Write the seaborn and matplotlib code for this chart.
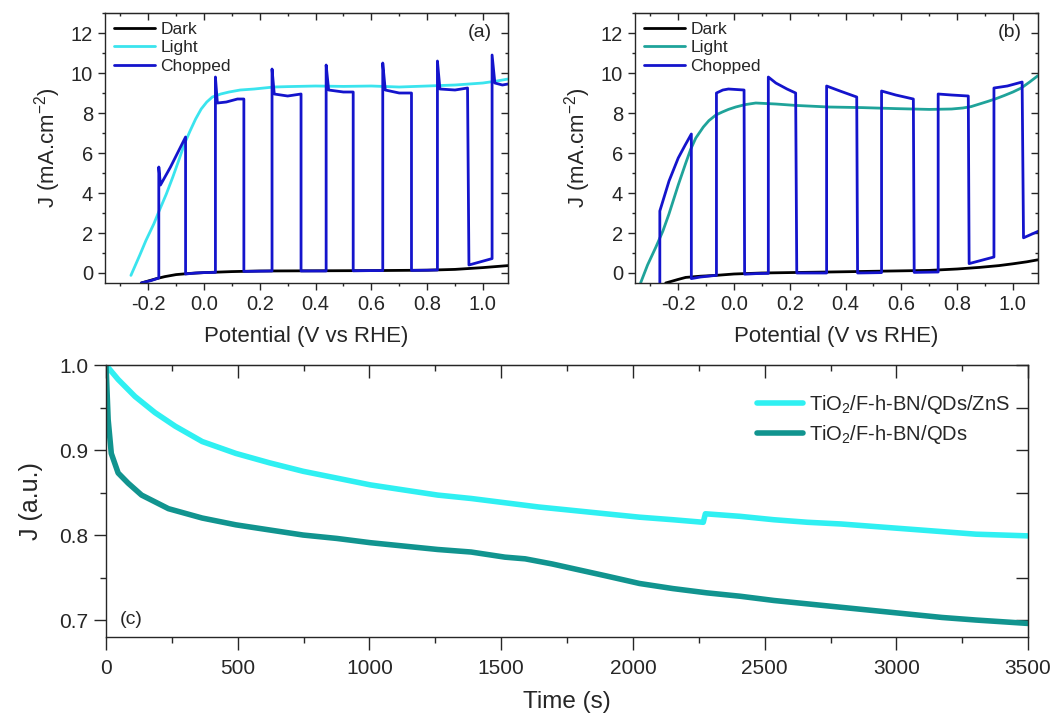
import pandas as pd
import seaborn as sns
from matplotlib import pyplot as plt
from matplotlib.ticker import MultipleLocator

sns.set_style('ticks')
plt.rcParams['font.family'] = ['Liberation Sans', 'DejaVu Sans']
plt.rcParams['mathtext.fontset'] = 'custom'
plt.rcParams['mathtext.rm'] = 'Liberation Sans'

# ---- panel (a) : LSV, dark / light / chopped
dark_a_v = [-0.225, -0.2, -0.17, -0.14, -0.1, -0.05, 0.0, 0.1, 0.2, 0.4, 0.6, 0.8, 0.9, 1.0, 1.09]
dark_a_j = [-0.5, -0.4, -0.28, -0.18, -0.08, -0.02, 0.02, 0.07, 0.1, 0.11, 0.12, 0.14, 0.18, 0.27, 0.37]

light_a_v = [-0.262, -0.23, -0.208, -0.18, -0.16, -0.135, -0.112, -0.09, -0.07, -0.05, -0.03, -0.01,
             0.01, 0.03, 0.06, 0.09, 0.13, 0.18, 0.25, 0.3, 0.4, 0.5, 0.6, 0.7, 0.8, 0.9, 0.95, 1.0, 1.05, 1.09]
light_a_j = [-0.12, 0.9, 1.63, 2.45, 3.13, 3.95, 4.79, 5.65, 6.46, 7.1, 7.7, 8.2,
             8.55, 8.8, 8.95, 9.05, 9.15, 9.2, 9.3, 9.32, 9.35, 9.33, 9.35, 9.3, 9.35, 9.4, 9.45, 9.5, 9.6, 9.7]

chop_a_v = [-0.225, -0.19, -0.162, -0.162, -0.156, -0.12, -0.066, -0.066, -0.03, 0.0, 0.041, 0.041,
            0.048, 0.08, 0.12, 0.143, 0.143, 0.2, 0.244, 0.244, 0.252, 0.3, 0.348, 0.348, 0.4, 0.438,
            0.438, 0.447, 0.5, 0.535, 0.535, 0.6, 0.641, 0.641, 0.65, 0.7, 0.744, 0.744, 0.8, 0.837,
            0.837, 0.846, 0.9, 0.945, 0.95, 1.033, 1.033, 1.043, 1.07, 1.09]
chop_a_j = [-0.5, -0.38, -0.25, 5.3, 4.4, 5.3, 6.8, -0.05, 0.0, 0.02, 0.03, 9.8,
            8.5, 8.55, 8.7, 8.7, 0.08, 0.09, 0.1, 10.2, 8.95, 8.85, 8.95, 0.1, 0.1, 0.1,
            10.4, 9.15, 9.05, 9.05, 0.11, 0.12, 0.12, 10.5, 9.15, 9.0, 9.0, 0.13, 0.14, 0.15,
            10.6, 9.2, 9.15, 9.25, 0.4, 0.72, 10.9, 9.5, 9.4, 9.45]

# ---- panel (b)
dark_b_v = [-0.245, -0.2, -0.173, -0.12, -0.066, 0.0, 0.1, 0.34, 0.7, 0.8, 0.88, 0.95, 1.0, 1.05, 1.09]
dark_b_j = [-0.5, -0.32, -0.22, -0.16, -0.12, -0.05, 0.0, 0.05, 0.13, 0.2, 0.28, 0.37, 0.46, 0.56, 0.66]

light_b_v = [-0.335, -0.31, -0.28, -0.255, -0.233, -0.2, -0.173, -0.155, -0.137, -0.11, -0.09, -0.065,
             -0.042, -0.02, 0.006, 0.04, 0.078, 0.15, 0.22, 0.34, 0.46, 0.58, 0.7, 0.78, 0.82, 0.85, 0.88,
             0.91, 0.94, 0.97, 1.0, 1.03, 1.06, 1.09]
light_b_j = [-0.5, 0.4, 1.3, 2.1, 2.96, 4.4, 5.5, 6.2, 6.75, 7.3, 7.62, 7.9,
             8.05, 8.18, 8.3, 8.42, 8.5, 8.45, 8.38, 8.3, 8.27, 8.22, 8.18, 8.2, 8.25, 8.32, 8.45,
             8.58, 8.72, 8.88, 9.05, 9.25, 9.55, 9.87]

chop_b_v = [-0.266, -0.266, -0.233, -0.2, -0.175, -0.153, -0.153, -0.12, -0.066, -0.063, -0.063,
            -0.04, -0.02, 0.036, 0.038, 0.08, 0.123, 0.123, 0.15, 0.19, 0.221, 0.225, 0.28, 0.332,
            0.332, 0.38, 0.44, 0.443, 0.49, 0.529, 0.529, 0.58, 0.643, 0.646, 0.69, 0.732, 0.732,
            0.78, 0.84, 0.843, 0.932, 0.932, 0.98, 1.033, 1.038, 1.093]
chop_b_j = [-0.5, 3.1, 4.6, 5.75, 6.4, 6.95, -0.28, -0.2, -0.12, -0.12, 9.0,
            9.15, 9.2, 9.15, -0.06, -0.03, -0.02, 9.8, 9.5, 9.2, 9.0, 0.0, 0.0, 0.0,
            9.35, 9.1, 8.8, 0.0, 0.01, 0.02, 9.1, 8.9, 8.7, 0.03, 0.04, 0.05, 8.95,
            8.9, 8.85, 0.47, 0.8, 9.25, 9.35, 9.55, 1.76, 2.1]

# ---- panel (c) : stability, normalised J
time_zns = [0, 46, 110, 186, 263, 365, 493, 620, 748, 876, 1003, 1131, 1259, 1386, 1514, 1642, 1770,
            1897, 2025, 2152, 2267, 2275, 2407, 2535, 2663, 2790, 2918, 3046, 3174, 3302, 3500]
j_zns = [1.0, 0.983, 0.963, 0.944, 0.928, 0.910, 0.896, 0.885, 0.875, 0.867, 0.859, 0.853, 0.847,
         0.843, 0.838, 0.833, 0.829, 0.825, 0.821, 0.818, 0.815, 0.825, 0.822, 0.818, 0.815, 0.813,
         0.810, 0.807, 0.804, 0.801, 0.799]

time_qds = [0, 8, 20, 46, 84, 135, 237, 365, 493, 620, 748, 876, 1003, 1131, 1259, 1386, 1514, 1591,
            1693, 1795, 1897, 2025, 2152, 2280, 2407, 2535, 2663, 2790, 2918, 3046, 3174, 3302, 3500]
j_qds = [1.0, 0.936, 0.896, 0.873, 0.861, 0.847, 0.831, 0.820, 0.812, 0.806, 0.800, 0.796, 0.791,
         0.787, 0.783, 0.780, 0.774, 0.772, 0.766, 0.759, 0.752, 0.743, 0.737, 0.732, 0.728, 0.723,
         0.719, 0.715, 0.711, 0.707, 0.703, 0.700, 0.696]

black = '#000000'
cyan = '#3ae4ee'
teal_b = '#1fa39a'
cyan_c = '#2ff0f2'
teal_c = '#11948f'
blue = '#1414cc'


def add_mirror_ticks(ax, xminor, yminor, major_len, minor_len):
    top = ax.secondary_xaxis('top')
    top.xaxis.set_minor_locator(MultipleLocator(xminor))
    top.tick_params(which='both', direction='in', labeltop=False, width=1)
    top.tick_params(which='major', length=major_len)
    top.tick_params(which='minor', length=minor_len)
    right = ax.secondary_yaxis('right')
    right.yaxis.set_minor_locator(MultipleLocator(yminor))
    right.tick_params(which='both', direction='in', labelright=False, width=1)
    right.tick_params(which='major', length=major_len)
    right.tick_params(which='minor', length=minor_len)


def lsv_panel(ax, dv, dj, lv, lj, cv, cj, light_col, tag):
    d = pd.DataFrame({'V': dv, 'J': dj})
    l = pd.DataFrame({'V': lv, 'J': lj})
    c = pd.DataFrame({'V': cv, 'J': cj})
    sns.lineplot(data=d, x='V', y='J', sort=False, estimator=None, color=black, lw=2, label='Dark', ax=ax)
    sns.lineplot(data=l, x='V', y='J', sort=False, estimator=None, color=light_col, lw=2, label='Light', ax=ax)
    sns.lineplot(data=c, x='V', y='J', sort=False, estimator=None, color=blue, lw=2, label='Chopped', ax=ax)
    ax.set_xlim(-0.355, 1.09)
    ax.set_ylim(-0.5, 13)
    ax.set_xticks([-0.2, 0.0, 0.2, 0.4, 0.6, 0.8, 1.0])
    ax.set_xticklabels(['-0.2', '0.0', '0.2', '0.4', '0.6', '0.8', '1.0'])
    ax.set_yticks([0, 2, 4, 6, 8, 10, 12])
    ax.xaxis.set_minor_locator(MultipleLocator(0.1))
    ax.yaxis.set_minor_locator(MultipleLocator(1))
    ax.tick_params(which='both', direction='out', labelsize=14.5, width=1)
    ax.tick_params(which='major', length=5)
    ax.tick_params(which='minor', length=2.5)
    add_mirror_ticks(ax, 0.1, 1, 5, 2.5)
    for s in ax.spines.values():
        s.set_linewidth(1)
    ax.set_xlabel('Potential (V vs RHE)', fontsize=16, labelpad=9)
    ax.set_ylabel('J (mA.cm$^{-2}$)', fontsize=16, labelpad=6)
    ax.text(0.93, 0.926, tag, transform=ax.transAxes, fontsize=14, ha='center', va='center')
    ax.legend(loc='upper left', frameon=False, fontsize=12.5, handlelength=2.4, handletextpad=0.3,
              labelspacing=0.2, borderaxespad=0.3, borderpad=0.2)


fig = plt.figure(figsize=(10.55, 7.19), dpi=100)
ax_a = fig.add_axes([0.0995, 0.6064, 0.382, 0.3755])
ax_b = fig.add_axes([0.6019, 0.6064, 0.382, 0.3755])
ax_c = fig.add_axes([0.1005, 0.1140, 0.874, 0.3783])

lsv_panel(ax_a, dark_a_v, dark_a_j, light_a_v, light_a_j, chop_a_v, chop_a_j, cyan, '(a)')
lsv_panel(ax_b, dark_b_v, dark_b_j, light_b_v, light_b_j, chop_b_v, chop_b_j, teal_b, '(b)')

zns = pd.DataFrame({'t': time_zns, 'J': j_zns})
qds = pd.DataFrame({'t': time_qds, 'J': j_qds})
sns.lineplot(data=zns, x='t', y='J', sort=False, estimator=None, color=cyan_c, lw=4,
             label='TiO$_2$/F-h-BN/QDs/ZnS', ax=ax_c)
sns.lineplot(data=qds, x='t', y='J', sort=False, estimator=None, color=teal_c, lw=4,
             label='TiO$_2$/F-h-BN/QDs', ax=ax_c)
ax_c.set_xlim(0, 3500)
ax_c.set_ylim(0.68, 1.0)
ax_c.set_xticks(range(0, 3501, 500))
ax_c.set_yticks([0.7, 0.8, 0.9, 1.0])
ax_c.set_yticklabels(['0.7', '0.8', '0.9', '1.0'])
ax_c.xaxis.set_minor_locator(MultipleLocator(250))
ax_c.yaxis.set_minor_locator(MultipleLocator(0.05))
ax_c.tick_params(which='both', direction='out', labelsize=15, width=1)
ax_c.tick_params(axis='x', which='major', pad=7)
ax_c.tick_params(which='major', length=9)
ax_c.tick_params(which='minor', length=4.5)
add_mirror_ticks(ax_c, 250, 0.05, 9, 4.5)
for s in ax_c.spines.values():
    s.set_linewidth(1)
ax_c.set_xlabel('Time (s)', fontsize=17.5, labelpad=9)
ax_c.set_ylabel('J (a.u.)', fontsize=18, labelpad=12)
ax_c.text(0.027, 0.066, '(c)', transform=ax_c.transAxes, fontsize=14, ha='center', va='center')
ax_c.legend(loc='upper right', bbox_to_anchor=(1.0, 0.965), frameon=False, fontsize=14.5,
            handlelength=2.3, handletextpad=0.3, labelspacing=0.35)

fig.savefig('out.png', dpi=100)
